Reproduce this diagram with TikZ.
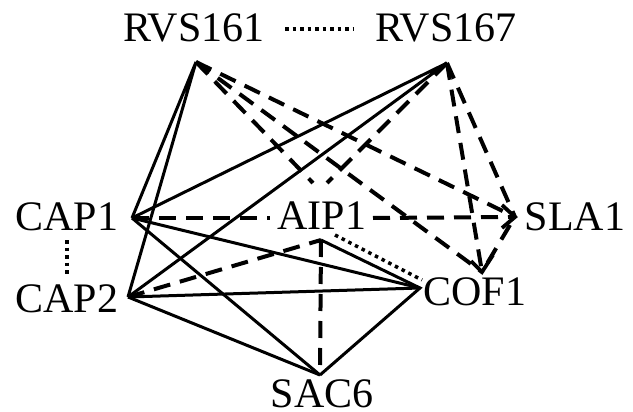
\documentclass[tikz,border=0pt]{standalone}
\usepackage{fontspec}
\setmainfont{Liberation Serif}
\usetikzlibrary{calc}
\begin{document}
\begin{tikzpicture}[x=1pt,y=-1pt,
  lbl/.style={inner sep=0pt,font=\fontsize{42}{42}\selectfont},
  solidln/.style={line width=3pt},
  dashln/.style={line width=4pt,dash pattern=on 17pt off 10pt},
  dotln/.style={line width=3.5pt,dash pattern=on 3.5pt off 4pt},
  headln/.style={line width=3.8pt,line join=miter}
]
\useasboundingbox (0,0) rectangle (633,412);
% labels
\node[lbl] (tRVS161) at (194,28) {RVS161};
\node[lbl] (tRVS167) at (446,28) {RVS167};
\node[lbl] (tCAP1) at (67,217) {CAP1};
\node[lbl] (tCAP2) at (67,299) {CAP2};
\node[lbl] (tAIP1) at (322,216) {AIP1};
\node[lbl] (tSLA1) at (575,217) {SLA1};
\node[lbl] (tCOF1) at (475,292) {COF1};
\node[lbl] (tSAC6) at (322,394) {SAC6};
% connection points
\coordinate (r161) at (196,62);
\coordinate (r167) at (447,63);
\coordinate (cap1) at (132,218);
\coordinate (cap2) at (128,297);
\coordinate (aipb) at (321,240);
\coordinate (aipl) at (270,218);
\coordinate (aipr) at (373,218);
\coordinate (aipt1) at (313,183);
\coordinate (aipt2) at (327,183);
\coordinate (cof1) at (420,288);
\coordinate (cofa) at (482,272);
\coordinate (sla1) at (515,217);
\coordinate (slab) at (510,225);
\coordinate (sac6) at (320,375);
\coordinate (d161) at (285,29);
\coordinate (d167) at (353,29);
\coordinate (dc1) at (67,240);
\coordinate (dc2) at (67,277);
\coordinate (da) at (335,235);
\coordinate (dc) at (422,280);
% solid edges
\draw[solidln] (cap1) -- (r161) -- (cap2);
\draw[solidln] (cap1) -- (r167) -- (cap2);
\draw[solidln] (cap1) -- (cof1);
\draw[solidln] (cap1) -- (sac6);
\draw[solidln] (cap2) -- (cof1);
\draw[solidln] (cap2) -- (sac6);
\draw[solidln] (aipb) -- (cof1) -- (sac6);
% dashed edges
\draw[dashln] (r161) -- (aipt1);
\draw[dashln] (r161) -- (sla1);
\draw[dashln] (r161) -- (cofa);
\draw[dashln] (r167) -- (aipt2);
\draw[dashln] (r167) -- (sla1);
\draw[dashln] (r167) -- (cofa);
\draw[dashln] (cap1) -- (aipl);
\draw[dashln] (aipr) -- (sla1);
\draw[dashln] (cap2) -- (aipb);
\draw[dashln] (aipb) -- (sac6);
\draw[dashln] (slab) -- (cofa);
% arrow heads
\draw[headln] ($(sla1)+(-13,-12)$) -- (sla1) -- ($(sla1)+(-13,11)$);
\draw[headln] ($(cofa)+(-11,-11)$) -- (cofa) -- ($(cofa)+(11,-17)$);
% dotted edges
\draw[dotln] (d161) -- (d167);
\draw[dotln] (dc1) -- (dc2);
\draw[dotln] (da) -- (dc);
\end{tikzpicture}
\end{document}
